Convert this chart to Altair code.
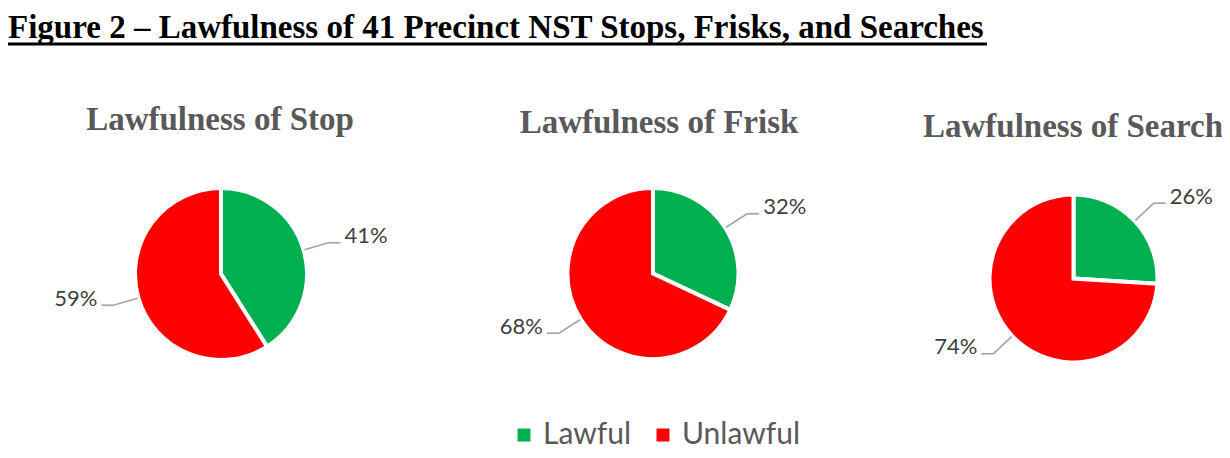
import math
import altair as alt
import pandas as pd

# ---------------- data ----------------
panels = ["Stop", "Frisk", "Search"]
panel_titles = ["Lawfulness of Stop", "Lawfulness of Frisk", "Lawfulness of Search"]
categories = ["Lawful", "Unlawful"]
lawful_pct = [41, 32, 26]
unlawful_pct = [59, 68, 74]
main_title = "Figure 2 \u2013 Lawfulness of 41 Precinct NST Stops, Frisks, and Searches"

# ---------------- layout (pixels inside the plot area) ----------------
W, H = 1214, 442
pie_cx = [213, 645, 1065.5]
pie_cy = [266, 265.5, 270.5]
pie_r = [84, 83.5, 82]
title_cx = [212, 651, 1065]
title_base = [122, 125, 129]

GREEN = "#00B050"
RED = "#FF0000"
LEADER = "#A6A6A6"
SERIF = "Liberation Serif"
SANS = "Lato"

rows = []
for i, p in enumerate(panels):
    vals = [lawful_pct[i], unlawful_pct[i]]
    for k, c in enumerate(categories):
        rows.append(dict(panel=p, category=c, order=k, value=vals[k],
                         cx=pie_cx[i], cy=pie_cy[i], r=pie_r[i]))
slices = pd.DataFrame(rows)

titles = pd.DataFrame(dict(title=panel_titles, tx=title_cx, ty=title_base))

base = (
    alt.Chart(slices)
    .transform_joinaggregate(total="sum(value)", groupby=["panel"])
    .transform_window(cum="sum(value)", groupby=["panel"], sort=[alt.SortField("order")])
    .transform_calculate(
        f0="(datum.cum - datum.value) / datum.total",
        f1="datum.cum / datum.total",
    )
    .transform_calculate(a="PI * (datum.f0 + datum.f1)")
    .transform_calculate(
        s="sin(datum.a) >= 0 ? 1 : -1",
        outer="datum.r + 2",
        ex="datum.cx + (datum.r + 3) * sin(datum.a)",
        ey="datum.cy - (datum.r + 3) * cos(datum.a)",
        kx="datum.cx + (datum.r + 28) * sin(datum.a)",
        ky="datum.cy - (datum.r + 28) * cos(datum.a)",
        label="datum.value + '%'",
    )
    .transform_calculate(
        tx="datum.kx + 12 * datum.s",
        lx="datum.kx + 16 * datum.s",
        ly="datum.ky + 0.5",
    )
)

arcs = base.mark_arc(stroke="white", strokeWidth=4).encode(
    x=alt.X("cx:Q", scale=None, axis=None),
    y=alt.Y("cy:Q", scale=None, axis=None),
    theta=alt.Theta("f0:Q", scale=alt.Scale(domain=[0, 1], range=[0, 2 * math.pi]), stack=None),
    theta2="f1:Q",
    radius=alt.Radius("outer:Q", scale=None),
    color=alt.Color(
        "category:N",
        scale=alt.Scale(domain=categories, range=[GREEN, RED]),
        legend=alt.Legend(
            title=None, orient="none", legendX=501, legendY=412, direction="horizontal",
            symbolType="square", symbolSize=169, symbolStrokeWidth=0,
            labelFont=SANS, labelFontSize=30, labelColor="#595959",
            labelOffset=4, columnPadding=16, padding=0,
        ),
    ),
    order=alt.Order("order:Q"),
)

seg1 = base.mark_rule(color=LEADER, strokeWidth=1.75).encode(
    x=alt.X("ex:Q", scale=None), y=alt.Y("ey:Q", scale=None),
    x2="kx:Q", y2="ky:Q",
)
seg2 = base.mark_rule(color=LEADER, strokeWidth=1.75).encode(
    x=alt.X("kx:Q", scale=None), y=alt.Y("ky:Q", scale=None),
    x2="tx:Q", y2="ky:Q",
)

lab_right = base.transform_filter("datum.s > 0").mark_text(
    align="left", baseline="alphabetic", font=SANS, fontSize=22, color="#404040"
).encode(x=alt.X("lx:Q", scale=None), y=alt.Y("ly:Q", scale=None), text="label:N")

lab_left = base.transform_filter("datum.s < 0").mark_text(
    align="right", baseline="alphabetic", font=SANS, fontSize=22, color="#404040"
).encode(x=alt.X("lx:Q", scale=None), y=alt.Y("ly:Q", scale=None), text="label:N")

panel_title = alt.Chart(titles).mark_text(
    align="center", baseline="alphabetic", font=SERIF, fontSize=33,
    fontWeight="bold", color="#595959"
).encode(x=alt.X("tx:Q", scale=None), y=alt.Y("ty:Q", scale=None), text="title:N")

head = alt.Chart(pd.DataFrame({"t": [main_title]})).mark_text(
    align="left", baseline="alphabetic", font=SERIF, fontSize=33,
    fontWeight="bold", color="black"
).encode(x=alt.value(0), y=alt.value(29.5), text="t:N")

underline = alt.Chart(pd.DataFrame({"t": [main_title]})).mark_rule(
    color="black", strokeWidth=3
).encode(x=alt.value(0), x2=alt.value(979), y=alt.value(36))

chart = (
    alt.layer(arcs, seg1, seg2, lab_right, lab_left, panel_title, head, underline)
    .properties(width=W, height=H, padding=0, autosize="none", background="white")
    .configure_view(strokeWidth=0)
)

chart.save("out.html", embed_options={"renderer": "svg", "actions": False})
